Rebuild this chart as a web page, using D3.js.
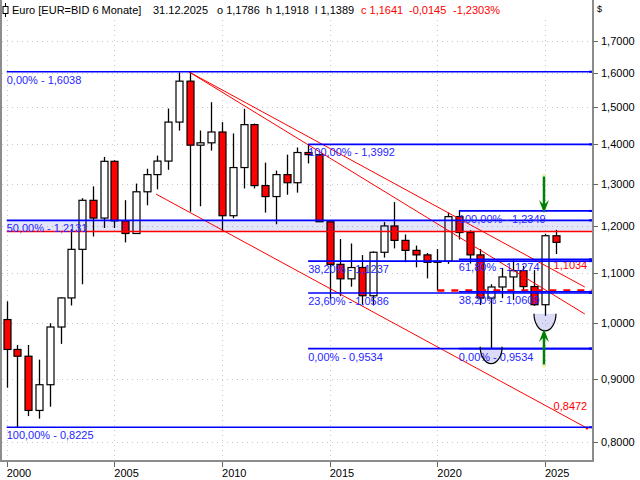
<!DOCTYPE html>
<html><head><meta charset="utf-8">
<script src="https://cdn.jsdelivr.net/npm/d3@7/dist/d3.min.js"></script>
<style>body{margin:0;background:#fff}svg{display:block;font-family:"Liberation Sans",Arial,sans-serif}</style>
</head><body>
<svg id="c" width="640" height="480"></svg>
<script>
// ---- data (semi-annual OHLC, EUR/USD) ----
const periods = ["2000-01","2000-07","2001-01","2001-07","2002-01","2002-07","2003-01","2003-07","2004-01","2004-07",
"2005-01","2005-07","2006-01","2006-07","2007-01","2007-07","2008-01","2008-07","2009-01","2009-07",
"2010-01","2010-07","2011-01","2011-07","2012-01","2012-07","2013-01","2013-07","2014-01","2014-07",
"2015-01","2015-07","2016-01","2016-07","2017-01","2017-07","2018-01","2018-07","2019-01","2019-07",
"2020-01","2020-07","2021-01","2021-07","2022-01","2022-07","2023-01","2023-07","2024-01","2024-07",
"2025-01","2025-07"];
const open  = [1.0070,0.9520,0.9400,0.8490,0.8910,0.9930,1.0487,1.1489,1.2597,1.2184,
1.3554,1.2120,1.1836,1.2800,1.3220,1.3560,1.4590,1.5756,1.3971,1.4033,
1.4321,1.2238,1.3396,1.4520,1.2950,1.2686,1.3220,1.3020,1.3780,1.3725,
1.2100,1.1170,1.0870,1.1103,1.0530,1.1426,1.2005,1.1684,1.1467,1.1370,
1.1213,1.1234,1.2216,1.1858,1.1370,1.0484,1.0705,1.0909,1.1039,1.0713,
1.0354,1.1786];
const high  = [1.0420,0.9600,0.9600,0.9340,1.0000,1.0500,1.1933,1.2647,1.2930,1.3667,
1.3580,1.2600,1.3000,1.3367,1.3700,1.4966,1.6018,1.6038,1.4360,1.5145,
1.4590,1.4282,1.4960,1.4550,1.3520,1.3320,1.3725,1.3910,1.3992,1.3740,
1.2100,1.1714,1.1616,1.1366,1.1446,1.2092,1.2555,1.1815,1.1570,1.1412,
1.1495,1.2310,1.2349,1.1909,1.1495,1.0760,1.1095,1.1276,1.1140,1.1050,
1.1830,1.1918];
const low   = [0.8860,0.8225,0.8400,0.8360,0.8550,0.9620,1.0340,1.0760,1.1770,1.1960,
1.1960,1.1640,1.1826,1.2480,1.2860,1.3340,1.4360,1.2330,1.2457,1.3830,
1.1876,1.2180,1.2880,1.2880,1.2310,1.2043,1.2730,1.2780,1.3500,1.2100,
1.0458,1.0521,1.0710,1.0352,1.0340,1.1312,1.1510,1.1216,1.1107,1.0879,
1.0636,1.1180,1.1704,1.1186,1.0350,0.9534,1.0483,1.0448,1.0601,1.0332,
1.0141,1.1389];
const close = [0.9520,0.9400,0.8490,0.8910,0.9930,1.0487,1.1489,1.2597,1.2184,1.3554,
1.2120,1.1836,1.2800,1.3220,1.3560,1.4590,1.5756,1.3971,1.4033,1.4321,
1.2238,1.3396,1.4520,1.2950,1.2686,1.3220,1.3020,1.3780,1.3725,1.2100,
1.1170,1.0870,1.1103,1.0530,1.1426,1.2005,1.1684,1.1467,1.1370,1.1213,
1.1234,1.2216,1.1858,1.1370,1.0484,1.0705,1.0909,1.1039,1.0713,1.0354,
1.1786,1.1641];

const yTicks = [0.8,0.9,1.0,1.1,1.2,1.3,1.4,1.5,1.6,1.7];
const xTicks = [2000,2005,2010,2015,2020,2025];

// Fibonacci retracement sets: start date, levels
const fibLong  = {start:2000.0, levels:[["0,00%",1.6038],["50,00%",1.2131],["100,00%",0.8225]]};
const fibMid   = {start:2014.0, levels:[["100,00%",1.3992],["38,20%",1.1237],["23,60%",1.0586],["0,00%",0.9534]]};
const fibShort = {start:2021.0, levels:[["100,00%",1.2349],["61,80%",1.1274],["38,20%",1.0609],["0,00%",0.9534]]};
const zoneTop = 1.2131, zoneBottom = 1.1880;
const supportDashed = {start:2020.0, value:1.0636};
// trend lines [date1, value1, date2, value2]
const trendLines = [[2008.45,1.6038,2026.85,1.0704],[2008.45,1.6038,2026.85,1.0175],[2006.93,1.2747,2026.95,0.8213]];
const trendLabels = [["1,1034",2025.4,1.1034],["0,8472",2025.4,0.8472]];
const cups = [[2022.5,0.9534],[2025.0,1.0141]];
const header = [["Euro [EUR=BID 6 Monate]",12,"#000"],["31.12.2025",153,"#000"],["o 1,1786",217,"#000"],["h 1,1918",266,"#000"],
["l 1,1389",315,"#000"],["c 1,1641",361,"#f00"],["-0,0145",409,"#f00"],["-1,2303%",453,"#f00"]];

// ---- scales ----
const L=1,R=593,T=20,B=461;
const x = d3.scaleLinear().domain([1999.735,2027.23]).range([L,R]);
const y = d3.scaleLog().domain([0.7721,1.7673]).range([B,T]);
const pd = p => +p.slice(0,4) + (p.slice(5)==="07"?0.5:0);
const svg = d3.select("#c");
const BLUE="#0000ff", LBL="#2626ff", RED="#ff0000";

// grid
const g = svg.append("g");
g.selectAll(".gy").data(yTicks).join("line").attr("x1",L+1).attr("x2",R).attr("y1",d=>Math.round(y(d))+0.5).attr("y2",d=>Math.round(y(d))+0.5)
 .attr("stroke","#c8c8c8").attr("stroke-dasharray","1,4");
g.selectAll(".gx").data(xTicks).join("line").attr("y1",T).attr("y2",B).attr("x1",d=>Math.round(x(d))+0.5).attr("x2",d=>Math.round(x(d))+0.5)
 .attr("stroke","#c8c8c8").attr("stroke-dasharray","1,4");

// candles
const candles = periods.map((p,i)=>({d:pd(p),o:open[i],h:high[i],l:low[i],c:close[i]}));
const cg = svg.append("g");
cg.selectAll(".w").data(candles).join("line").attr("x1",d=>Math.round(x(d.d))+0.5).attr("x2",d=>Math.round(x(d.d))+0.5)
 .attr("y1",d=>y(d.h)).attr("y2",d=>y(d.l)).attr("stroke","#000").attr("stroke-width",1.3);
cg.selectAll(".b").data(candles).join("rect")
 .attr("x",d=>Math.round(x(d.d))-3).attr("width",7)
 .attr("y",d=>Math.min(y(d.o),y(d.c))).attr("height",d=>Math.max(1,Math.abs(y(d.o)-y(d.c))))
 .attr("fill",d=>d.c<d.o?RED:"#fff").attr("stroke","#000").attr("stroke-width",1.2);

// zone band
svg.append("rect").attr("x",x(2000)).attr("width",R-x(2000)).attr("y",y(zoneTop)).attr("height",y(zoneBottom)-y(zoneTop))
 .attr("fill","#0000d0").attr("opacity",0.1);
svg.append("line").attr("x1",x(2000)).attr("x2",R).attr("y1",y(zoneBottom)).attr("y2",y(zoneBottom)).attr("stroke",RED).attr("stroke-width",1.5);

// trend lines
svg.selectAll(".tl").data(trendLines).join("line").attr("x1",d=>x(d[0])).attr("y1",d=>y(d[1])).attr("x2",d=>x(d[2])).attr("y2",d=>y(d[3]))
 .attr("stroke",RED).attr("stroke-width",1);
svg.append("circle").attr("cx",x(trendLines[2][2])).attr("cy",y(trendLines[2][3])).attr("r",1.5).attr("fill",RED);
svg.selectAll(".tlab").data(trendLabels).join("text").attr("x",d=>x(d[1])).attr("y",d=>y(d[2])-2).text(d=>d[0])
 .attr("fill",RED).attr("font-size",11);

// dashed support
svg.append("line").attr("x1",x(supportDashed.start)).attr("x2",R).attr("y1",y(supportDashed.value)).attr("y2",y(supportDashed.value))
 .attr("stroke",RED).attr("stroke-width",2.5).attr("stroke-dasharray","7,7");

// fib sets
[fibLong,fibMid,fibShort].forEach(f=>{
  const fg=svg.append("g");
  fg.selectAll("line").data(f.levels).join("line").attr("x1",x(f.start)).attr("x2",R)
    .attr("y1",d=>y(d[1])).attr("y2",d=>y(d[1])).attr("stroke",BLUE).attr("stroke-width",1.6);
  fg.selectAll("text").data(f.levels).join("text").attr("x",x(f.start)).attr("y",d=>y(d[1])+12)
    .text(d=>d[0]+" - "+d3.format(".4f")(d[1]).replace(".",",")).attr("fill",LBL).attr("font-size",11);
});

// cups
cups.forEach(c=>{
  const cx=x(c[0]), top=y(c[1])-2, rw=11, rh=17;
  const p=`M${cx-rw},${top} A${rw},${rh} 0 0 0 ${cx+rw},${top}`;
  svg.append("path").attr("d",p+" Z").attr("fill","#2020d0").attr("opacity",0.16);
  svg.append("path").attr("d",p).attr("fill","none").attr("stroke","#000").attr("stroke-width",1.2);
});

// arrows
function arrow(xx,y0,y1){
  const dir = y1>y0?1:-1;
  svg.append("line").attr("x1",xx).attr("x2",xx).attr("y1",y0).attr("y2",y1-dir*4).attr("stroke","#008000").attr("stroke-width",2.5);
  svg.append("path").attr("d",`M${xx},${y1} L${xx-5},${y1-dir*13} L${xx},${y1-dir*8} L${xx+5},${y1-dir*13} Z`).attr("fill","#008000");
  svg.append("circle").attr("cx",xx).attr("cy",y0).attr("r",1.8).attr("fill","#f4f4b0");
}
arrow(x(2025.0)-1,175,213);
arrow(x(2025.0)-1,366,329);

// frame
svg.append("line").attr("x1",1).attr("x2",1).attr("y1",0).attr("y2",B).attr("stroke","#8c8c8c").attr("stroke-width",2);
svg.append("line").attr("x1",0).attr("x2",R).attr("y1",B).attr("y2",B).attr("stroke","#8c8c8c").attr("stroke-width",2);
svg.append("line").attr("x1",R).attr("x2",R).attr("y1",0).attr("y2",B+1).attr("stroke","#8c8c8c").attr("stroke-width",2);

// right axis
const ya = svg.append("g");
ya.selectAll("line").data(yTicks).join("line").attr("x1",R).attr("x2",R+5).attr("y1",d=>Math.round(y(d))+0.5).attr("y2",d=>Math.round(y(d))+0.5).attr("stroke","#666");
ya.selectAll("text").data(yTicks).join("text").attr("x",R+8).attr("y",d=>y(d)+4).text(d=>d3.format(".4f")(d).replace(".",","))
  .attr("font-size",11).attr("fill","#000");
const fibAll=[...fibLong.levels,...fibMid.levels,...fibShort.levels].map(d=>d[1]);
svg.selectAll(".fm").data(fibAll).join("line").attr("x1",R-4).attr("x2",R-1).attr("y1",d=>y(d)).attr("y2",d=>y(d)).attr("stroke",BLUE).attr("stroke-width",2);

// x axis
const xa = svg.append("g");
xa.selectAll("line").data(xTicks).join("line").attr("x1",d=>Math.round(x(d))+0.5).attr("x2",d=>Math.round(x(d))+0.5).attr("y1",B+1).attr("y2",B+6).attr("stroke","#666");
xa.selectAll("text").data(xTicks).join("text").attr("x",d=>x(d)).attr("y",477).text(d=>d).attr("font-size",11).attr("fill","#000");

// header
svg.append("line").attr("x1",5.5).attr("x2",5.5).attr("y1",3).attr("y2",17).attr("stroke","#000");
svg.append("rect").attr("x",3).attr("y",6.5).attr("width",5).attr("height",7).attr("fill","#fff").attr("stroke","#000");
svg.selectAll(".hd").data(header).join("text").attr("x",d=>d[1]).attr("y",14).text(d=>d[0]).attr("fill",d=>d[2]).attr("font-size",11);
svg.append("text").attr("x",597).attr("y",12).text("$").attr("font-size",9).attr("fill","#000");
</script>
</body></html>
